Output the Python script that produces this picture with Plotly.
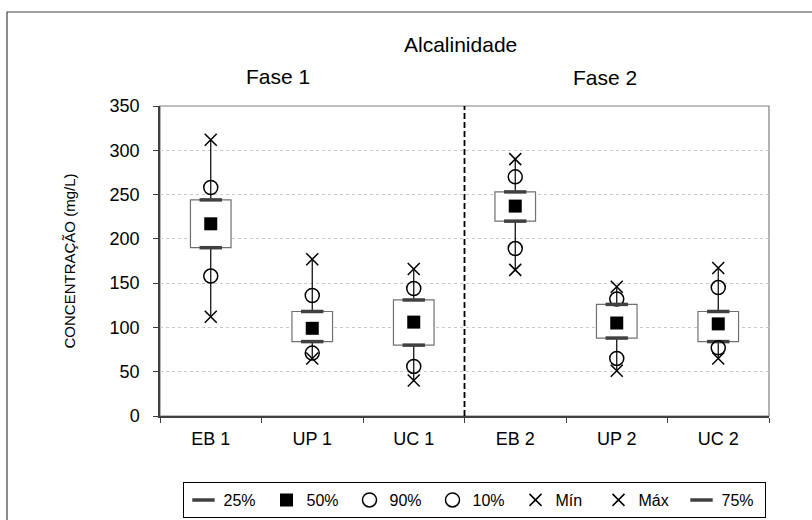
import plotly.graph_objects as go

# Alkalinity statistics per sampling point (mg/L)
categories = ["EB 1", "UP 1", "UC 1", "EB 2", "UP 2", "UC 2"]
fase1_count = 3
p25 = [190, 84, 80, 220, 88, 84]
p50 = [217, 99, 106, 237, 105, 104]
p75 = [244, 118, 131, 253, 126, 118]
p90 = [258, 136, 144, 270, 132, 145]
p10 = [158, 71, 56, 189, 65, 77]
vmin = [112, 65, 40, 165, 51, 65]
vmax = [312, 177, 166, 290, 146, 167]

FONT = "Liberation Sans, Arial, sans-serif"
INK = "#000000"
DASH_GREY = "#404040"


def segments(lo, hi):
    xs, ys = [], []
    for c, a, b in zip(categories, lo, hi):
        xs += [c, c, None]
        ys += [a, b, None]
    return xs, ys


fig = go.Figure()

# boxes between the 25th and 75th percentiles
fig.add_trace(go.Bar(
    x=categories, y=[b - a for a, b in zip(p25, p75)], base=p25,
    width=0.4, marker=dict(color="white", line=dict(color="#707070", width=1.2)),
    showlegend=False, hoverinfo="skip"))

# whiskers: min -> 25% and 75% -> max
for lo, hi in ((vmin, p25), (p75, vmax)):
    xs, ys = segments(lo, hi)
    fig.add_trace(go.Scatter(x=xs, y=ys, mode="lines",
                             line=dict(color=INK, width=1.2),
                             showlegend=False, hoverinfo="skip"))

dash_marker = dict(symbol="line-ew", size=16, color=DASH_GREY,
                   line=dict(color=DASH_GREY, width=3.5))
circle_marker = dict(symbol="circle-open", size=14, color=INK,
                     line=dict(color=INK, width=1.5))
cross_marker = dict(symbol="x-thin-open", size=12, color=INK,
                    line=dict(color=INK, width=1.5))

series = [
    ("25%", p25, dash_marker),
    ("50%", p50, dict(symbol="square", size=13, color=INK)),
    ("90%", p90, circle_marker),
    ("10%", p10, circle_marker),
    ("Mín", vmin, cross_marker),
    ("Máx", vmax, cross_marker),
    ("75%", p75, dash_marker),
]
for name, vals, mk in series:
    fig.add_trace(go.Scatter(x=categories, y=vals, mode="markers",
                             name=name, marker=mk))

L, R, T, B = 160, 43, 106, 104
W, H = 812, 520
pw, ph = W - L - R, H - T - B


def px_x(p):
    return (p - L) / pw


def px_y(p):
    return (H - B - p) / ph


shapes = [
    # plot area frame
    dict(type="rect", xref="paper", yref="paper", x0=0, x1=1, y0=0, y1=1,
         line=dict(color="#808080", width=1.2), layer="below"),
    # divider between the two phases
    dict(type="line", xref="x", yref="paper",
         x0=fase1_count - 0.5, x1=fase1_count - 0.5, y0=0, y1=1,
         line=dict(color=INK, width=1.8, dash="6px,3px")),
    # chart area frame
    dict(type="rect", xref="paper", yref="paper",
         x0=px_x(7), x1=px_x(W + 5), y0=px_y(H + 5), y1=px_y(12),
         line=dict(color="#404040", width=1.2)),
]

annotations = [
    dict(text="Alcalinidade", x=px_x(460), y=px_y(44)),
    dict(text="Fase 1", x=px_x(278), y=px_y(76)),
    dict(text="Fase 2", x=px_x(605), y=px_y(77)),
]
for a in annotations:
    a.update(xref="paper", yref="paper", showarrow=False,
             xanchor="center", yanchor="middle",
             font=dict(family=FONT, size=21, color=INK))

fig.update_layout(
    width=W, height=H,
    margin=dict(l=L, r=R, t=T, b=B, autoexpand=False),
    paper_bgcolor="white", plot_bgcolor="white",
    font=dict(family=FONT, color=INK),
    shapes=shapes, annotations=annotations,
    showlegend=True,
    legend=dict(orientation="h", x=px_x(474), xanchor="center",
                y=px_y(482), yanchor="top",
                entrywidth=38, entrywidthmode="pixels",
                bordercolor="#000000", borderwidth=1, bgcolor="white",
                font=dict(family=FONT, size=16, color=INK),
                itemsizing="trace", tracegroupgap=0),
    xaxis=dict(type="category", range=[-0.5, len(categories) - 0.5],
               showline=True, linecolor="#404040", linewidth=1.5,
               ticks="outside", tickson="boundaries", ticklen=5,
               tickcolor="#404040", showgrid=False,
               tickfont=dict(family=FONT, size=18, color=INK),
               ticklabelstandoff=6),
    yaxis=dict(range=[0, 350], dtick=50, tick0=0,
               showline=True, linecolor="#404040", linewidth=1.5,
               ticks="outside", ticklen=5, tickcolor="#404040",
               showgrid=True, gridcolor="#c8c8c8", griddash="dot",
               gridwidth=1, zeroline=False,
               tickfont=dict(family=FONT, size=18, color=INK),
               ticklabelstandoff=10,
               title=dict(text="CONCENTRAÇÃO (mg/L)", standoff=30,
                          font=dict(family=FONT, size=15, color=INK))),
)

fig.write_html("out.html")
